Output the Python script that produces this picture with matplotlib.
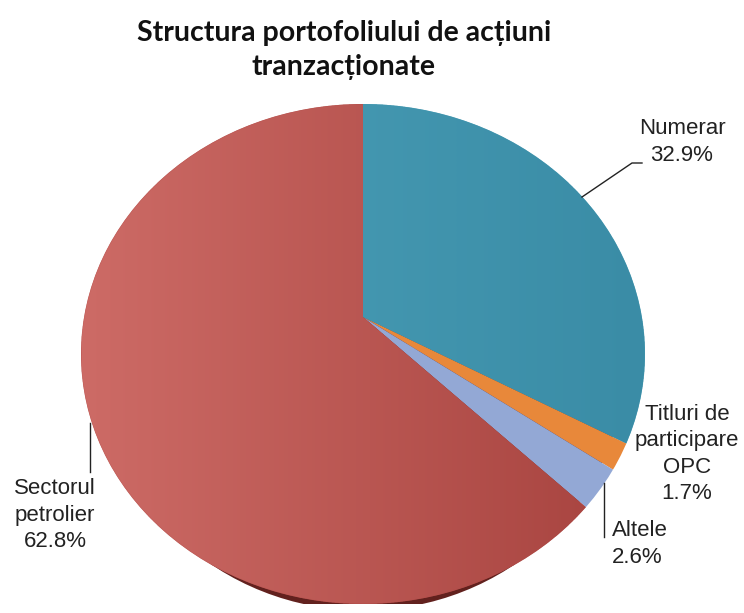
import numpy as np
import matplotlib.pyplot as plt
from matplotlib.colors import LinearSegmentedColormap
from matplotlib.patches import Circle, Ellipse

# portfolio structure, clockwise from the top
categories = ["Numerar", "Titluri de\nparticipare\nOPC", "Altele", "Sectorul\npetrolier"]
shares = [32.9, 1.7, 2.6, 62.8]
colors = ["#4399b1", "#e8883a", "#93a8d5", "#b04a46"]
title = "Structura portofoliului de acțiuni\ntranzacționate"

W, H = 744, 613
fig = plt.figure(figsize=(W / 100, H / 100), dpi=100)

# pie drawn in its own axes, stretched to an ellipse (tilted look)
x0, x1, y0, y1 = 81, 645, 104, 604
pax = fig.add_axes([x0 / W, 1 - y1 / H, (x1 - x0) / W, (y1 - y0) / H])
apex = 0.148     # perspective: the apex sits above the ellipse centre
drop = 0.026     # thickness of the disc

# darker copy shifted down gives the thickness at the bottom edge
shadow, _ = pax.pie(shares, colors=["#62211e"] * len(shares), startangle=90,
                    counterclock=False, center=(0, apex - drop), radius=1.3,
                    wedgeprops=dict(linewidth=0))
for w in shadow:
    w.set_clip_on(True)
    w.set_clip_path(Ellipse((0, -drop), 1.86, 2.0, transform=pax.transData))

wedges, _ = pax.pie(shares, colors=colors, startangle=90, counterclock=False,
                    center=(0, apex), radius=1.3, wedgeprops=dict(linewidth=0))
for w in wedges:
    w.set_clip_on(True)
    w.set_clip_path(Circle((0, 0), 1, transform=pax.transData))

# soft horizontal gradients on the two big slices, masked to the disc
n = 1600
gx, gy = np.meshgrid(np.linspace(-1, 1, n), np.linspace(1, -1, n))
inside = (gx ** 2 + gy ** 2) <= 1.0
for w, (c_left, c_right) in zip([wedges[3], wedges[0]],
                                [("#cd6b66", "#a6423e"), ("#4ca1b9", "#3a8ca6")]):
    cmap = LinearSegmentedColormap.from_list("g", [c_left, c_right])
    rgba = cmap((gx + 1) / 2)
    rgba[..., 3] = inside
    im = pax.imshow(rgba, extent=(-1, 1, -1, 1), aspect="auto",
                    zorder=w.get_zorder() + 0.1)
    im.set_clip_path(w)

pax.set_aspect("auto")
pax.set_xlim(-1, 1)
pax.set_ylim(-1.0, 1.0)
pax.axis("off")

# overlay in pixel coordinates for text and leader lines
ax = fig.add_axes([0, 0, 1, 1])
ax.set_xlim(0, W)
ax.set_ylim(H, 0)
ax.axis("off")
ax.patch.set_alpha(0)

ax.text(344, 50, title, ha="center", va="center", fontsize=20.5,
        fontweight="bold", family=["Lato", "DejaVu Sans"], color="#111111",
        linespacing=1.35)

lab = dict(fontsize=16, family=["Liberation Sans", "DejaVu Sans"],
           color="#222222", linespacing=1.35)
pct = [f"{v:.1f}%" for v in shares]

ax.text(682, 142, f"{categories[0]}\n{pct[0]}", ha="center", va="center", **lab)
ax.plot([582, 632, 642], [197, 163, 163], color="#222222", lw=1)

ax.text(687, 454, f"{categories[1]}\n{pct[1]}", ha="center", va="center", **lab)

ax.text(612, 544, f"{categories[2]}\n{pct[2]}", ha="left", va="center", **lab)
ax.plot([604, 604], [483, 537], color="#222222", lw=1)

ax.text(55, 515, f"{categories[3]}\n{pct[3]}", ha="center", va="center", **lab)
ax.plot([90, 90], [423, 472], color="#222222", lw=1)

fig.savefig("out.png", dpi=100)
